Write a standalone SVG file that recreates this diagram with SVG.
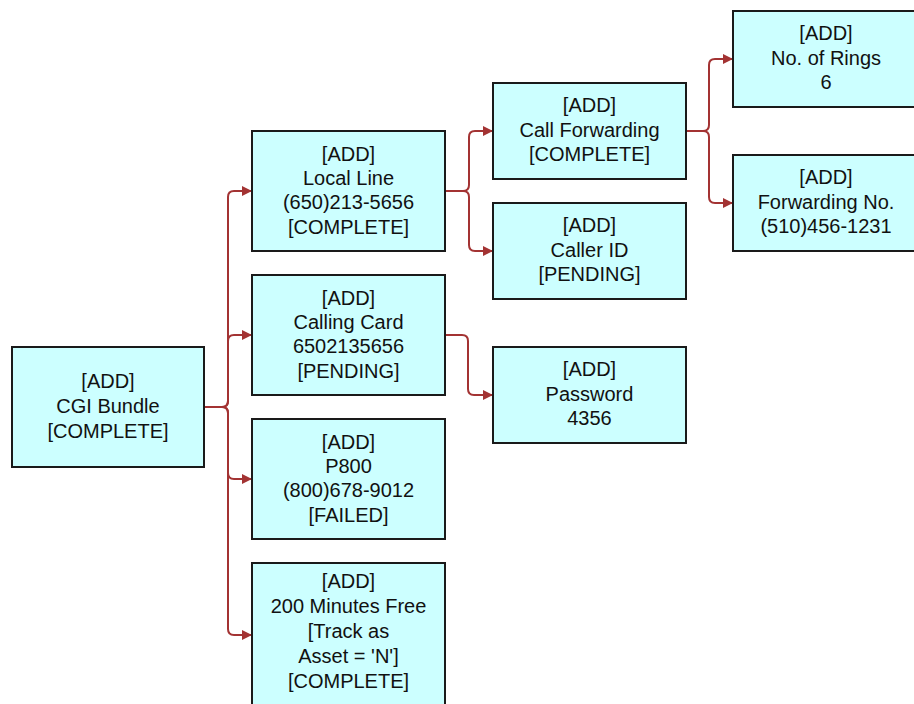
<svg xmlns="http://www.w3.org/2000/svg" width="914" height="704" viewBox="0 0 914 704">
<defs>
<marker id="arr" viewBox="0 0 10 10" refX="10" refY="5" markerWidth="12" markerHeight="10" markerUnits="userSpaceOnUse" orient="auto">
<path d="M0,0 L10,5 L0,10 z" fill="#a33333"/>
</marker>
<style>
.box{fill:#ccffff;stroke:#1a1a1a;stroke-width:2}
.t{font-family:"Liberation Sans",Arial,sans-serif;font-size:20px;fill:#111;text-anchor:middle}
.c{fill:none;stroke:#a33333;stroke-width:2;marker-end:url(#arr)}
</style>
</defs>
<rect width="914" height="704" fill="#ffffff"/>
<g id="connectors">
<path class="c" d="M204,407 H222 Q228,407 228,401 V197 Q228,191 234,191 H252"/>
<path class="c" d="M204,407 H222 Q228,407 228,401 V341 Q228,335 234,335 H252"/>
<path class="c" d="M204,407 H222 Q228,407 228,413 V473 Q228,479 234,479 H252"/>
<path class="c" d="M204,407 H222 Q228,407 228,413 V629 Q228,635 234,635 H252"/>
<path class="c" d="M445,191 H463 Q469,191 469,185 V137 Q469,131 475,131 H493"/>
<path class="c" d="M445,191 H463 Q469,191 469,197 V245 Q469,251 475,251 H493"/>
<path class="c" d="M445,335 H462 Q468,335 468,341 V389 Q468,395 474,395 H493"/>
<path class="c" d="M686,131 H703 Q709,131 709,125 V65 Q709,59 715,59 H733"/>
<path class="c" d="M686,131 H703 Q709,131 709,137 V197 Q709,203 715,203 H733"/>
</g>
<g id="n-cgi">
<rect class="box" x="12" y="347" width="192" height="120"/>
<text class="t" x="108" y="388">[ADD]</text>
<text class="t" x="108" y="413">CGI Bundle</text>
<text class="t" x="108" y="438">[COMPLETE]</text>
</g>
<g id="n-localline">
<rect class="box" x="252" y="131" width="193" height="120"/>
<text class="t" x="348.5" y="161">[ADD]</text>
<text class="t" x="348.5" y="185">Local Line</text>
<text class="t" x="348.5" y="209">(650)213-5656</text>
<text class="t" x="348.5" y="234">[COMPLETE]</text>
</g>
<g id="n-callingcard">
<rect class="box" x="252" y="275" width="193" height="120"/>
<text class="t" x="348.5" y="305">[ADD]</text>
<text class="t" x="348.5" y="329">Calling Card</text>
<text class="t" x="348.5" y="353">6502135656</text>
<text class="t" x="348.5" y="378">[PENDING]</text>
</g>
<g id="n-p800">
<rect class="box" x="252" y="419" width="193" height="120"/>
<text class="t" x="348.5" y="449">[ADD]</text>
<text class="t" x="348.5" y="473">P800</text>
<text class="t" x="348.5" y="497">(800)678-9012</text>
<text class="t" x="348.5" y="522">[FAILED]</text>
</g>
<g id="n-200min">
<rect class="box" x="252" y="563" width="193" height="150"/>
<text class="t" x="348.5" y="588">[ADD]</text>
<text class="t" x="348.5" y="613">200 Minutes Free</text>
<text class="t" x="348.5" y="638">[Track as</text>
<text class="t" x="348.5" y="663">Asset = 'N']</text>
<text class="t" x="348.5" y="688">[COMPLETE]</text>
</g>
<g id="n-callfwd">
<rect class="box" x="493" y="83" width="193" height="96"/>
<text class="t" x="589.5" y="112">[ADD]</text>
<text class="t" x="589.5" y="137">Call Forwarding</text>
<text class="t" x="589.5" y="161">[COMPLETE]</text>
</g>
<g id="n-callerid">
<rect class="box" x="493" y="203" width="193" height="96"/>
<text class="t" x="589.5" y="232">[ADD]</text>
<text class="t" x="589.5" y="257">Caller ID</text>
<text class="t" x="589.5" y="281">[PENDING]</text>
</g>
<g id="n-password">
<rect class="box" x="493" y="347" width="193" height="96"/>
<text class="t" x="589.5" y="376">[ADD]</text>
<text class="t" x="589.5" y="401">Password</text>
<text class="t" x="589.5" y="425">4356</text>
</g>
<g id="n-rings">
<rect class="box" x="733" y="11" width="193" height="96"/>
<text class="t" x="826" y="40">[ADD]</text>
<text class="t" x="826" y="65">No. of Rings</text>
<text class="t" x="826" y="89">6</text>
</g>
<g id="n-fwdno">
<rect class="box" x="733" y="155" width="193" height="96"/>
<text class="t" x="826" y="184">[ADD]</text>
<text class="t" x="826" y="209">Forwarding No.</text>
<text class="t" x="826" y="233">(510)456-1231</text>
</g>
</svg>
